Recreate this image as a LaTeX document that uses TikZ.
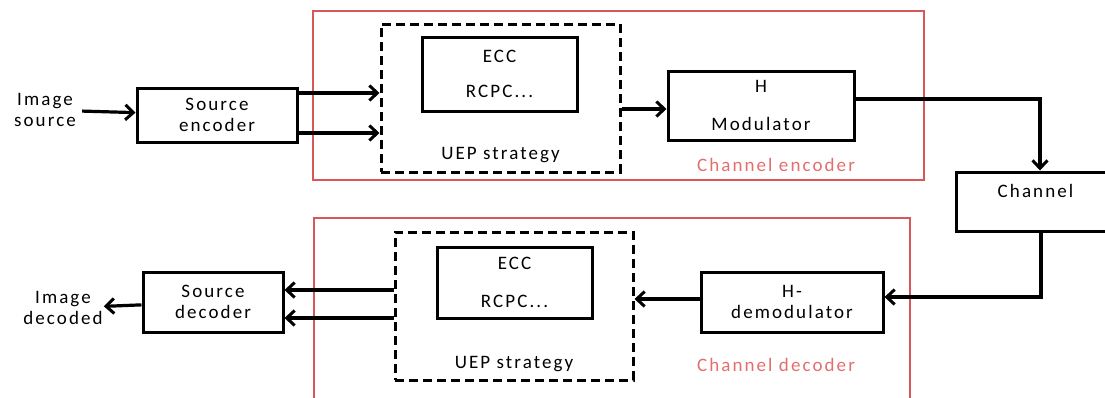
\documentclass[tikz,border=0pt]{standalone}
\usepackage{fontspec}
\setmainfont{Carlito}[LetterSpace=11]
\usepackage{xcolor}
\usepackage{tikz}
\usetikzlibrary{arrows.meta,positioning}
\definecolor{boxred}{RGB}{214,88,88}
\definecolor{labelred}{RGB}{226,110,110}

\begin{document}
\begin{tikzpicture}[x=1pt,y=-1pt,
  font=\fontsize{19}{21}\selectfont,
  blk/.style={draw,line width=3pt,align=center,inner sep=0pt},
  uep/.style={draw,dash pattern=on 9pt off 5pt,line width=3pt,inner sep=0pt},
  grp/.style={draw=boxred,line width=1.5pt,inner sep=0pt},
  arr/.style={line width=3.2pt,-{Straight Barb[length=8pt,width=15pt,line width=3pt]}},
  txt/.style={align=center,inner sep=1pt}]

\useasboundingbox (0,0) rectangle (1105,397);
\clip (0,0) rectangle (1105,397);

\node (enc) at (618.5,95.5) [grp,minimum width=611pt,minimum height=169pt]{};
\node (dec) at (612,314) [grp,minimum width=596pt,minimum height=192pt]{};

\node (uep1) at (500.5,98) [uep,minimum width=239pt,minimum height=148pt]{};
\node (ecc1) at (499.5,74) [blk,minimum width=155pt,minimum height=74pt]{ECC\\[14pt]RCPC...};
\node (senc) at (217,115) [blk,minimum width=160pt,minimum height=54pt]{Source\\encoder};
\node (mod) at (761,105.5) [blk,minimum width=186pt,minimum height=69pt]{H\\[17pt]Modulator};
\node (chan) at (1035.5,201.5) [blk,minimum width=159pt,minimum height=59pt]{Channel\\[0pt]~};
\node (isrc) at (45,110) [txt]{Image\\source};
\node (uep1lbl) at ([yshift=14pt]uep1.south) [anchor=base]{UEP strategy};
\node (enclbl) at (776,171) [anchor=base,text=labelred]{Channel encoder};

\node (uep2) at (514,306) [uep,minimum width=238pt,minimum height=148pt]{};
\node (ecc2) at (514.5,282.5) [blk,minimum width=155pt,minimum height=71pt]{ECC\\[17pt]RCPC...};
\node (sdec) at (213,302) [blk,minimum width=140pt,minimum height=60pt]{Source\\decoder};
\node (demod) at (792,302) [blk,minimum width=182pt,minimum height=60pt]{H-\\demodulator};
\node (idec) at (63,308) [txt]{Image\\decoded};
\node (uep2lbl) at ([yshift=13pt]uep2.south) [anchor=base]{UEP strategy};
\node (declbl) at (776,371) [anchor=base,text=labelred]{Channel decoder};

\coordinate (e1) at ([yshift=22pt]senc.east);
\coordinate (e2) at ([yshift=-18pt]senc.east);
\coordinate (m1) at ([yshift=-3.5pt]mod.west);
\coordinate (h1) at ([yshift=3pt]demod.west);
\coordinate (d1) at ([yshift=12pt]sdec.east);
\coordinate (d2) at ([yshift=-16pt]sdec.east);

\draw[arr,shorten <=5pt] (isrc) -- (senc);
\draw[arr] (e1) -- (e1 -| uep1.west);
\draw[arr] (e2) -- (e2 -| uep1.west);
\draw[arr] (m1 -| uep1.east) -- (m1);
\draw[arr] ([yshift=6.5pt]mod.east) -| ([xshift=4.5pt]chan.north);
\draw[arr] ([xshift=5.5pt]chan.south) |- ([yshift=5pt]demod.east);
\draw[arr] (h1) -- (h1 -| uep2.east);
\draw[arr] (d1 -| uep2.west) -- (d1);
\draw[arr] (d2 -| uep2.west) -- (d2);
\draw[arr] (sdec) -- (idec);

\end{tikzpicture}
\end{document}
